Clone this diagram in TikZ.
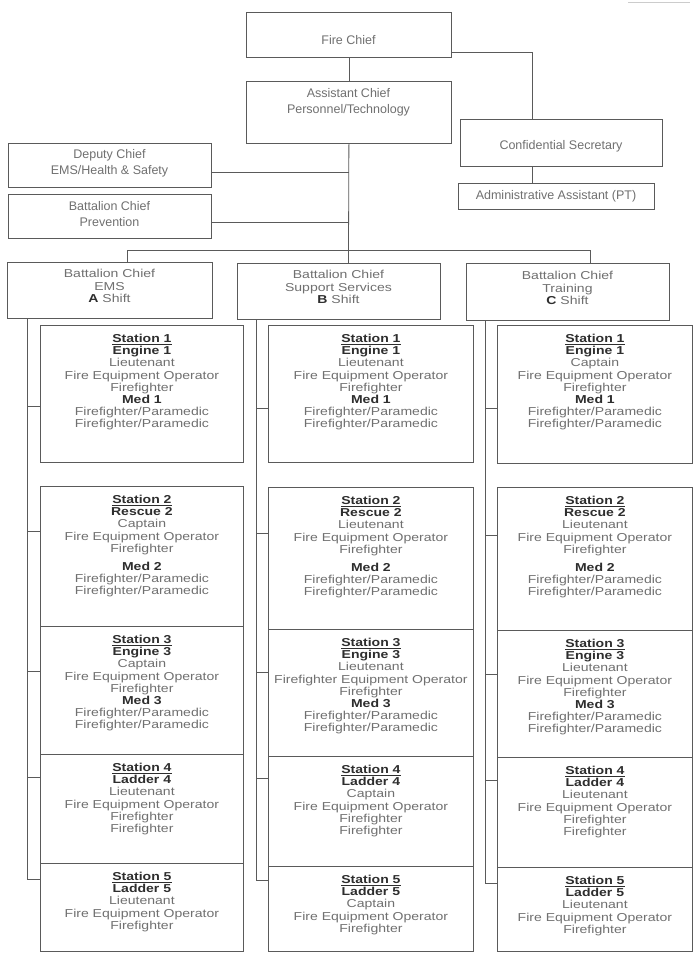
\documentclass[tikz,border=0pt]{standalone}
\usepackage{fontspec}
\setmainfont{Liberation Sans}
\newfontfamily\stfont{Liberation Sans}[FakeStretch=1.22]
\definecolor{ln}{HTML}{5A5A5A}
\definecolor{tx}{HTML}{707070}
\definecolor{bd}{HTML}{2E2E2E}
\newcommand\hd[1]{\textbf{\color{bd}#1}}
\newcommand\hu[1]{\textbf{\color{bd}\underline{#1}}}
\newcommand\FEO{Fire Equipment Operator}
\newcommand\FFP{Firefighter/Paramedic}
\tikzset{
  box/.style={draw=ln, line width=0.8pt, rectangle, inner sep=0pt, anchor=north west},
  conn/.style={draw=ln, line width=0.8pt},
  toptxt/.style={align=center, text=tx, font=\fontsize{12.5}{16}\selectfont, inner sep=0pt},
  bctxt/.style={align=center, text=tx, font=\stfont\fontsize{11.5}{12.5}\selectfont, inner sep=0pt},
  sttxt/.style={align=center, text=tx, font=\stfont\fontsize{11.5}{12.2}\selectfont, inner sep=0pt, anchor=north},
}
\begin{document}
\begin{tikzpicture}[x=1pt,y=-1pt]
\useasboundingbox[fill=white] (0,0) rectangle (694,953);
\draw[black!20, line width=0.6pt] (628,2) -- (690,2);

% ---- top boxes
\node[box, minimum width=205pt, minimum height=45pt] (fc) at (246,12) {};
\node[toptxt] (fct) at (348.5,40) {Fire Chief};
\node[box, minimum width=205pt, minimum height=62pt] (ac) at (246,81) {};
\node[toptxt] (act) at (348.5,102) {Assistant Chief\\Personnel/Technology};
\node[box, minimum width=202pt, minimum height=47pt] (cs) at (460,119) {};
\node[toptxt] (cst) at (561,146) {Confidential Secretary};
\node[box, minimum width=196pt, minimum height=26pt] (adm) at (458,183) {};
\node[toptxt] (admt) at (556,196) {Administrative Assistant (PT)};
\node[box, minimum width=203pt, minimum height=44pt] (dep) at (8,143) {};
\node[toptxt] (dept) at (109.5,163) {Deputy Chief\\EMS/Health \& Safety};
\node[box, minimum width=203pt, minimum height=44pt] (prev) at (8,194) {};
\node[toptxt] (prevt) at (109.5,214) {Battalion Chief\\Prevention};

% ---- battalion chiefs
\node[box, minimum width=205pt, minimum height=56pt] (bca) at (7,262) {};
\node[bctxt] (bcat) at (109.5,286) {Battalion Chief\\EMS\\\hd{A} Shift};
\node[box, minimum width=203pt, minimum height=56pt] (bcb) at (237,263) {};
\node[bctxt] (bcbt) at (338.5,287) {Battalion Chief\\Support Services\\\hd{B} Shift};
\node[box, minimum width=203pt, minimum height=57pt] (bcc) at (466,263) {};
\node[bctxt] (bcct) at (567.5,288) {Battalion Chief\\Training\\\hd{C} Shift};

% ---- column A stations
\node[box, minimum width=203pt, minimum height=137pt] (a1) at (40,325) {};
\node[sttxt] (a1t) at ([yshift=-9pt]a1.north) {\hu{Station 1}\\\hd{Engine 1}\\Lieutenant\\\FEO\\Firefighter\\\hd{Med 1}\\\FFP\\\FFP};
\node[box, minimum width=203pt, minimum height=140pt] (a2) at (40,486) {};
\node[sttxt] (a2t) at ([yshift=-9pt]a2.north) {\hu{Station 2}\\\hd{Rescue 2}\\Captain\\\FEO\\Firefighter\\[6pt]\hd{Med 2}\\\FFP\\\FFP};
\node[box, minimum width=203pt, minimum height=128pt] (a3) at (40,626) {};
\node[sttxt] (a3t) at ([yshift=-9pt]a3.north) {\hu{Station 3}\\\hd{Engine 3}\\Captain\\\FEO\\Firefighter\\\hd{Med 3}\\\FFP\\\FFP};
\node[box, minimum width=203pt, minimum height=109pt] (a4) at (40,754) {};
\node[sttxt] (a4t) at ([yshift=-9pt]a4.north) {\hu{Station 4}\\\hd{Ladder 4}\\Lieutenant\\\FEO\\Firefighter\\Firefighter};
\node[box, minimum width=203pt, minimum height=88pt] (a5) at (40,863) {};
\node[sttxt] (a5t) at ([yshift=-9pt]a5.north) {\hu{Station 5}\\\hd{Ladder 5}\\Lieutenant\\\FEO\\Firefighter};

% ---- column B stations
\node[box, minimum width=205pt, minimum height=137pt] (b1) at (268,325) {};
\node[sttxt] (b1t) at ([yshift=-9pt]b1.north) {\hu{Station 1}\\\hd{Engine 1}\\Lieutenant\\\FEO\\Firefighter\\\hd{Med 1}\\\FFP\\\FFP};
\node[box, minimum width=205pt, minimum height=142pt] (b2) at (268,487) {};
\node[sttxt] (b2t) at ([yshift=-9pt]b2.north) {\hu{Station 2}\\\hd{Rescue 2}\\Lieutenant\\\FEO\\Firefighter\\[6pt]\hd{Med 2}\\\FFP\\\FFP};
\node[box, minimum width=205pt, minimum height=127pt] (b3) at (268,629) {};
\node[sttxt] (b3t) at ([yshift=-9pt]b3.north) {\hu{Station 3}\\\hd{Engine 3}\\Lieutenant\\Firefighter Equipment Operator\\Firefighter\\\hd{Med 3}\\\FFP\\\FFP};
\node[box, minimum width=205pt, minimum height=110pt] (b4) at (268,756) {};
\node[sttxt] (b4t) at ([yshift=-9pt]b4.north) {\hu{Station 4}\\\hd{Ladder 4}\\Captain\\\FEO\\Firefighter\\Firefighter};
\node[box, minimum width=205pt, minimum height=85pt] (b5) at (268,866) {};
\node[sttxt] (b5t) at ([yshift=-9pt]b5.north) {\hu{Station 5}\\\hd{Ladder 5}\\Captain\\\FEO\\Firefighter};

% ---- column C stations
\node[box, minimum width=195pt, minimum height=138pt] (c1) at (497,325) {};
\node[sttxt] (c1t) at ([yshift=-9pt]c1.north) {\hu{Station 1}\\\hd{Engine 1}\\Captain\\\FEO\\Firefighter\\\hd{Med 1}\\\FFP\\\FFP};
\node[box, minimum width=195pt, minimum height=143pt] (c2) at (497,487) {};
\node[sttxt] (c2t) at ([yshift=-9pt]c2.north) {\hu{Station 2}\\\hd{Rescue 2}\\Lieutenant\\\FEO\\Firefighter\\[6pt]\hd{Med 2}\\\FFP\\\FFP};
\node[box, minimum width=195pt, minimum height=127pt] (c3) at (497,630) {};
\node[sttxt] (c3t) at ([yshift=-9pt]c3.north) {\hu{Station 3}\\\hd{Engine 3}\\Lieutenant\\\FEO\\Firefighter\\\hd{Med 3}\\\FFP\\\FFP};
\node[box, minimum width=195pt, minimum height=110pt] (c4) at (497,757) {};
\node[sttxt] (c4t) at ([yshift=-9pt]c4.north) {\hu{Station 4}\\\hd{Ladder 4}\\Lieutenant\\\FEO\\Firefighter\\Firefighter};
\node[box, minimum width=195pt, minimum height=84pt] (c5) at (497,867) {};
\node[sttxt] (c5t) at ([yshift=-9pt]c5.north) {\hu{Station 5}\\\hd{Ladder 5}\\Lieutenant\\\FEO\\Firefighter};

% ---- connectors at the top
\coordinate (fcr) at ([yshift=-17.5pt]fc.east);
\coordinate (csn) at ([xshift=-29pt]cs.north);
\coordinate (css) at ([xshift=-29pt]cs.south);
\draw[conn] (fc.south) -- (ac.north);
\draw[conn] (fcr) -| (csn);
\draw[conn] (css) -- (css |- adm.north);
\coordinate (bar) at (348.5,250);
\draw[conn] (ac.south) -- (bar);
\coordinate (depc) at ([yshift=-7pt]dep.east);
\coordinate (prevc) at ([yshift=-6pt]prev.east);
\draw[conn] (depc) -- (depc -| ac.south);
\draw[conn] (prevc) -- (prevc -| ac.south);
\coordinate (dropA) at (127,250);
\coordinate (dropC) at (590,250);
\draw[conn] (dropA) -- (dropC);
\draw[conn] (dropA) -- (dropA |- bca.north);
\draw[conn] (bar) -- (bar |- bcb.north);
\draw[conn] (dropC) -- (dropC |- bcc.north);

% ---- column connectors
\coordinate (va) at (27,879);
\draw[conn] (va |- bca.south) -- (va) -- (va -| a5.west);
\coordinate (ta1) at (40,406); \coordinate (ta2) at (40,531);
\coordinate (ta3) at (40,671); \coordinate (ta4) at (40,777);
\foreach \t in {ta1,ta2,ta3,ta4} \draw[conn] (\t -| va) -- (\t);

\coordinate (vb) at (256,880);
\draw[conn] (vb |- bcb.south) -- (vb) -- (vb -| b5.west);
\coordinate (tb1) at (268,408); \coordinate (tb2) at (268,533);
\coordinate (tb3) at (268,672); \coordinate (tb4) at (268,778);
\foreach \t in {tb1,tb2,tb3,tb4} \draw[conn] (\t -| vb) -- (\t);

\coordinate (vc) at (485,883);
\draw[conn] (vc |- bcc.south) -- (vc) -- (vc -| c5.west);
\coordinate (tc1) at (497,408); \coordinate (tc2) at (497,535);
\coordinate (tc3) at (497,674); \coordinate (tc4) at (497,780);
\foreach \t in {tc1,tc2,tc3,tc4} \draw[conn] (\t -| vc) -- (\t);
\end{tikzpicture}
\end{document}
